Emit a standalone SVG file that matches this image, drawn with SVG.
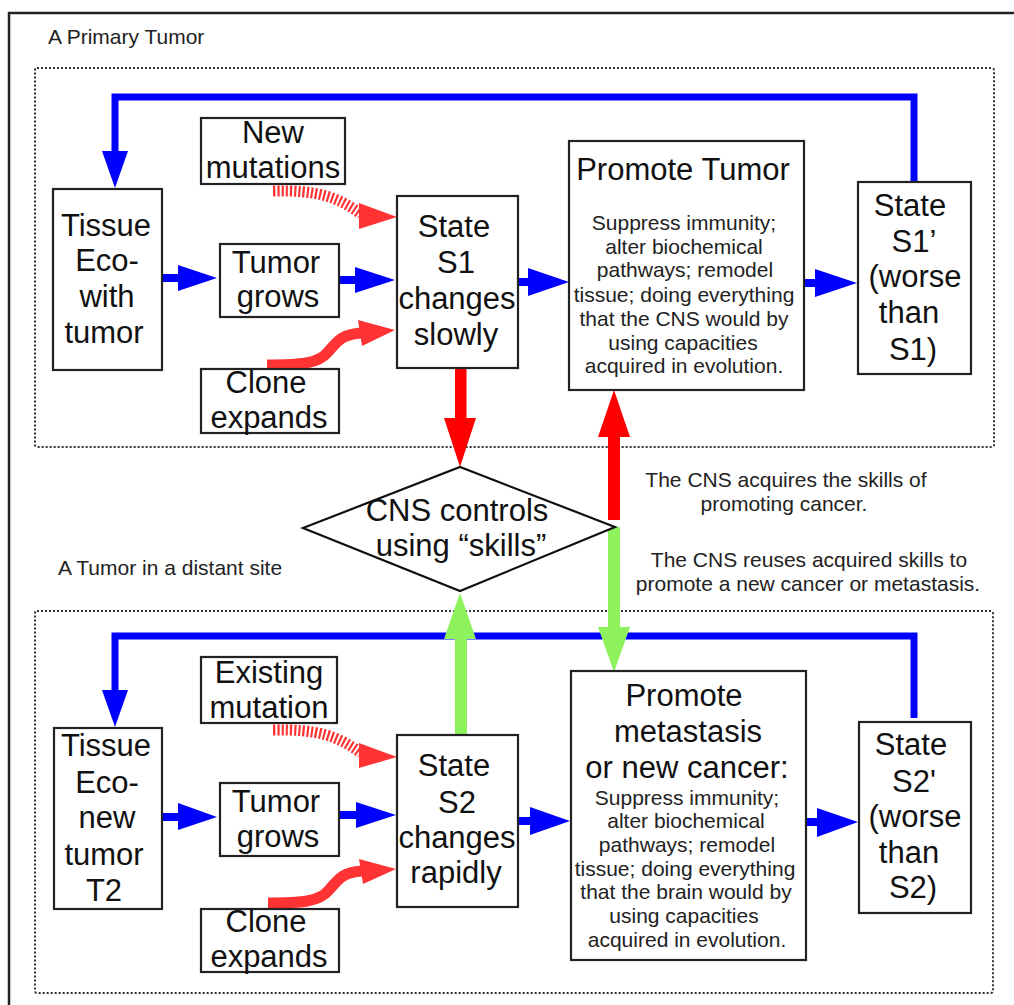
<svg xmlns="http://www.w3.org/2000/svg" width="1014" height="1005" viewBox="0 0 1014 1005">
<style>
text{font-family:"Liberation Sans",Arial,sans-serif;fill:#111;text-anchor:middle}
.big{font-size:31px}
.sm{font-size:21px;fill:#222}
.lbl{font-size:21px;fill:#222;text-anchor:start}
.box{fill:#fff;stroke:#222;stroke-width:2.2}
.dot{fill:none;stroke:#333;stroke-width:2;stroke-dasharray:2 2}
.blue{fill:#0000ff}
.bl{fill:none;stroke:#0000ff;stroke-width:7}
.bs{fill:none;stroke:#0000ff;stroke-width:8}
.red{fill:#ff0000}
.lr{fill:#ff3333}
.grn{fill:#8ef25c}
.dash{fill:none;stroke:#ff3333;stroke-width:11;stroke-dasharray:2.2 2}
.thick{fill:none;stroke:#ff3333;stroke-width:11}
</style>
<rect x="0" y="0" width="1014" height="1005" fill="#fff"/>
<rect x="9" y="13" width="1020" height="1010" fill="none" stroke="#222" stroke-width="2.5"/>
<rect class="dot" x="35" y="68" width="959" height="379" rx="2"/>
<rect class="dot" x="35" y="611" width="958" height="382" rx="2"/>
<text class="lbl" x="48" y="44">A Primary Tumor</text>
<text class="lbl" x="58" y="575">A Tumor in a distant site</text>

<g id="connectors">
  <path class="bl" d="M914,182 V97 H115 V152"/>
  <polygon class="blue" points="102,151 128,151 115,188"/>
  <path class="bl" d="M914,718 V636 H115 V691"/>
  <polygon class="blue" points="102,690 128,690 115,727"/>
  <path class="bs" d="M162,278 H180"/><polygon class="blue" points="178,265 178,291 217,278"/>
  <path class="bs" d="M339,280 H357"/><polygon class="blue" points="355,267 355,293 395,280"/>
  <path class="bs" d="M518,282 H530"/><polygon class="blue" points="528,268 528,296 569,282"/>
  <path class="bs" d="M804,283 H817"/><polygon class="blue" points="815,269 815,297 857,283"/>
  <path class="bs" d="M162,817 H180"/><polygon class="blue" points="178,803 178,830 217,817"/>
  <path class="bs" d="M339,815 H358"/><polygon class="blue" points="356,802 356,828 396,815"/>
  <path class="bs" d="M518,821 H532"/><polygon class="blue" points="530,807 530,835 570,821"/>
  <path class="bs" d="M806,822 H819"/><polygon class="blue" points="817,808 817,837 858,822"/>
  <path class="dash" d="M273,191 C318,190 338,197 361,214"/>
  <polygon class="lr" points="359,203 359,229 397,217"/>
  <path class="thick" d="M267,365 C300,365 318,364 328,352 C338,340 343,334 362,333"/>
  <polygon class="lr" points="358,320 362,346 395,330"/>
  <path class="dash" d="M273,730 C318,729 338,736 361,753"/>
  <polygon class="lr" points="359,743 359,768 397,757"/>
  <path class="thick" d="M268,903 C301,903 319,902 329,890 C339,878 344,872 362,871"/>
  <polygon class="lr" points="359,859 363,884 396,869"/>
  <rect class="red" x="455" y="367" width="11.5" height="53"/>
  <polygon class="red" points="444,418 476,418 460,467"/>
  <rect class="red" x="608" y="434" width="12" height="86"/>
  <polygon class="red" points="598,437 630,437 614,390"/>
  <rect class="grn" x="608" y="527" width="12" height="103"/>
  <polygon class="grn" points="598,627 630,627 614,672"/>
  <rect class="grn" x="455" y="636" width="12" height="99"/>
  <polygon class="grn" points="444,639 476,639 460,593"/>
</g>

<g id="tissue1"><rect class="box" x="53" y="189" width="109" height="181"/>
<text class="big" x="106" y="236">Tissue</text><text class="big" x="107" y="271">Eco-</text><text class="big" x="107" y="307">with</text><text class="big" x="104" y="343">tumor</text></g>
<g id="newmut"><rect class="box" x="201" y="118" width="144" height="66"/>
<text class="big" x="273" y="143">New</text><text class="big" x="273" y="178">mutations</text></g>
<g id="grows1"><rect class="box" x="220" y="244" width="119" height="73"/>
<text class="big" x="276" y="273">Tumor</text><text class="big" x="278" y="307">grows</text></g>
<g id="clone1"><rect class="box" x="201" y="369" width="138" height="64"/>
<text class="big" x="266" y="393">Clone</text><text class="big" x="269" y="428">expands</text></g>
<g id="s1"><rect class="box" x="397" y="196" width="121" height="172"/>
<text class="big" x="454" y="237">State</text><text class="big" x="456" y="273">S1</text><text class="big" x="457" y="309">changes</text><text class="big" x="456" y="345">slowly</text></g>
<g id="promote1"><rect class="box" x="569" y="141" width="235" height="249"/>
<text class="big" x="683" y="180">Promote Tumor</text>
<text class="sm" x="684" y="230">Suppress immunity;</text>
<text class="sm" x="684" y="254">alter biochemical</text>
<text class="sm" x="685" y="277">pathways; remodel</text>
<text class="sm" x="684" y="302">tissue; doing everything</text>
<text class="sm" x="684" y="326">that the CNS would by</text>
<text class="sm" x="683" y="350">using capacities</text>
<text class="sm" x="684" y="373">acquired in evolution.</text></g>
<g id="s1p"><rect class="box" x="858" y="182" width="113" height="192"/>
<text class="big" x="910" y="216">State</text><text class="big" x="914" y="252">S1’</text><text class="big" x="915" y="287">(worse</text><text class="big" x="909" y="323">than</text><text class="big" x="913" y="360">S1)</text></g>

<g id="cns"><polygon points="303,528 460,467 615,527 460,591" fill="#fff" stroke="#111" stroke-width="2.2"/>
<text class="big" x="457" y="521">CNS controls</text><text class="big" x="461" y="556">using “skills”</text></g>
<g id="note1"><text class="sm" x="786" y="487">The CNS acquires the skills of</text><text class="sm" x="784" y="511">promoting cancer.</text></g>
<g id="note2"><text class="sm" x="809" y="567">The CNS reuses acquired skills to</text><text class="sm" x="808" y="591">promote a new cancer or metastasis.</text></g>

<g id="tissue2"><rect class="box" x="54" y="728" width="108" height="181"/>
<text class="big" x="106" y="756">Tissue</text><text class="big" x="107" y="793">Eco-</text><text class="big" x="107" y="828">new</text><text class="big" x="104" y="865">tumor</text><text class="big" x="104" y="901">T2</text></g>
<g id="existmut"><rect class="box" x="201" y="657" width="136" height="66"/>
<text class="big" x="269" y="683">Existing</text><text class="big" x="269" y="718">mutation</text></g>
<g id="grows2"><rect class="box" x="220" y="783" width="119" height="73"/>
<text class="big" x="276" y="812">Tumor</text><text class="big" x="278" y="847">grows</text></g>
<g id="clone2"><rect class="box" x="201" y="909" width="138" height="63"/>
<text class="big" x="266" y="932">Clone</text><text class="big" x="269" y="967">expands</text></g>
<g id="s2"><rect class="box" x="397" y="735" width="121" height="172"/>
<text class="big" x="454" y="776">State</text><text class="big" x="457" y="813">S2</text><text class="big" x="457" y="848">changes</text><text class="big" x="456" y="883">rapidly</text></g>
<g id="promote2"><rect class="box" x="571" y="671" width="235" height="289"/>
<text class="big" x="684" y="706">Promote</text>
<text class="big" x="688" y="742">metastasis</text>
<text class="big" x="687" y="778">or new cancer:</text>
<text class="sm" x="687" y="805">Suppress immunity;</text>
<text class="sm" x="686" y="828">alter biochemical</text>
<text class="sm" x="687" y="852">pathways; remodel</text>
<text class="sm" x="685" y="876">tissue; doing everything</text>
<text class="sm" x="686" y="899">that the brain would by</text>
<text class="sm" x="684" y="923">using capacities</text>
<text class="sm" x="687" y="947">acquired in evolution.</text></g>
<g id="s2p"><rect class="box" x="859" y="722" width="112" height="191"/>
<text class="big" x="911" y="755">State</text><text class="big" x="914" y="792">S2'</text><text class="big" x="915" y="827">(worse</text><text class="big" x="909" y="863">than</text><text class="big" x="913" y="898">S2)</text></g>
</svg>
